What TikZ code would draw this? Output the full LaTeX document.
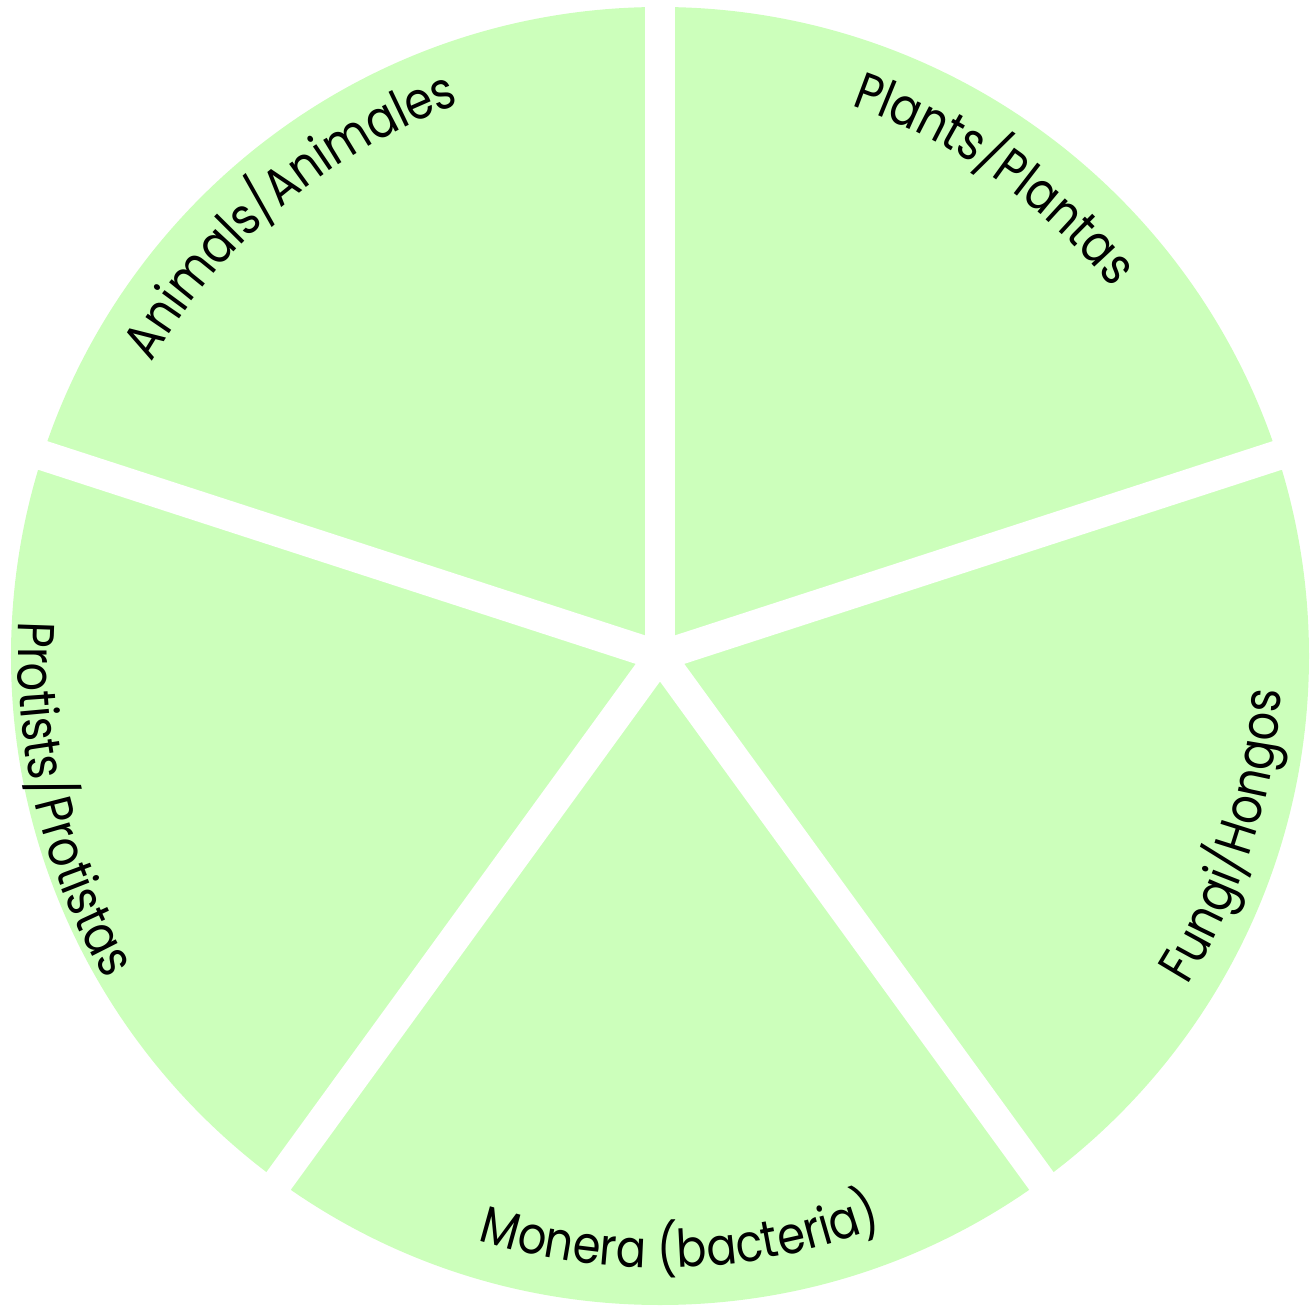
\documentclass[tikz,border=0pt]{standalone}
\usepackage{fontspec}
\usetikzlibrary{decorations.text}
\newfontfamily\lblfont[FakeStretch=0.86]{Poppins}
\definecolor{piegreen}{RGB}{204,255,187}
\tikzset{
  gap/.style={draw=white, line width=30pt, line cap=round},
  arclabel/.style={decorate, decoration={text along path, text align=center,
     text={|\lblfont\fontsize{52}{52}\selectfont|#1}}}
}
\begin{document}
\begin{tikzpicture}[x=1pt,y=1pt]
\useasboundingbox (-660,-652) rectangle (651,656);
\coordinate (O) at (0,0);
\fill[piegreen] (O) circle[radius=649];
\foreach \a in {90,18,-54,-126,162}
  \draw[gap] (O) -- (\a:655);
% labels along arcs
\path[arclabel={Animals/Animales}] (164:587) arc[start angle=164, end angle=96, radius=587];
\path[arclabel={Plants/Plantas}] (89:583) arc[start angle=89, end angle=21, radius=583];
\path[arclabel={Fungi/Hongos}] (-51.6:622) arc[start angle=-51.6, end angle=16.4, radius=622];
\path[arclabel={Protists/Protistas}] (159.6:642) arc[start angle=159.6, end angle=227.6, radius=642];
\path[arclabel={Monera (bacteria)}] (-122:612) arc[start angle=-122, end angle=-54, radius=612];
\end{tikzpicture}
\end{document}
